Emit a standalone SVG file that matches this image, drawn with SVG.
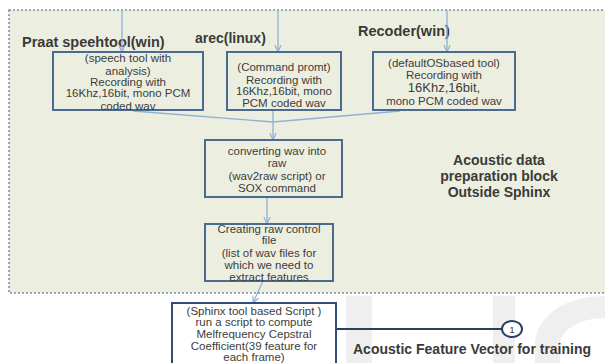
<svg xmlns="http://www.w3.org/2000/svg" width="605" height="363" viewBox="0 0 605 363">
<defs>
<marker id="ah" viewBox="0 0 10 10" refX="9" refY="5" markerWidth="6" markerHeight="6" orient="auto"><path d="M0,1 L9,5 L0,9" fill="none" stroke="#8FB0D6" stroke-width="1.5"/></marker>
<style>
.box{fill:none;stroke:#4A6A8F;stroke-width:2}
.t{font-family:"Liberation Sans",Arial,sans-serif;font-size:11.5px;fill:#3c3c3c;text-anchor:middle}
.h{font-family:"Liberation Sans",Arial,sans-serif;font-size:14px;font-weight:bold;fill:#3a3a3a}
.c{fill:none;stroke:#8FB0D6;stroke-width:1.3}
.wm{fill:#EFEFEF}
</style>
</defs>
<rect width="605" height="363" fill="#ffffff"/>
<g id="watermark">
<rect class="wm" x="346" y="296" width="26" height="67"/>
<rect class="wm" x="493" y="296" width="22" height="67"/>
<path class="wm" d="M605,296 C560,296 535,320 535,345 L535,363 L560,363 L560,345 C560,330 580,318 605,318 Z"/>
</g>
<g id="block">
<rect x="9" y="10" width="600" height="283" fill="#ECEFE0" stroke="#7C8CAA" stroke-width="1.5" stroke-dasharray="2,2"/>
<text class="h" x="499" y="165" text-anchor="middle">Acoustic data</text>
<text class="h" x="499" y="181" text-anchor="middle">preparation block</text>
<text class="h" x="499" y="197" text-anchor="middle">Outside Sphinx</text>
</g>
<g id="labels">
<text class="h" x="22" y="47" style="font-size:14.5px">Praat speehtool(win)</text>
<text class="h" x="195" y="43">arec(linux)</text>
<text class="h" x="358" y="36" style="font-size:14.5px">Recoder(win)</text>
</g>
<g id="connectors">
<line class="c" x1="122" y1="10" x2="122" y2="52" marker-end="url(#ah)"/>
<line class="c" x1="278" y1="10" x2="278" y2="52" marker-end="url(#ah)"/>
<line class="c" x1="447" y1="10" x2="447" y2="52" marker-end="url(#ah)"/>
<polyline class="c" points="133,111 273,122"/>
<polyline class="c" points="400,111 273,122"/>
<line class="c" x1="273" y1="110" x2="273" y2="140" marker-end="url(#ah)"/>
<line class="c" x1="267" y1="197" x2="267" y2="224" marker-end="url(#ah)"/>
<line class="c" x1="263" y1="281" x2="253" y2="303" marker-end="url(#ah)"/>
<line x1="336" y1="329" x2="502" y2="329" stroke="#2B3F63" stroke-width="2"/>
</g>
<g id="box1">
<rect class="box" x="53" y="52" width="150" height="58"/>
<text class="t" x="128" y="62">(speech tool with</text>
<text class="t" x="128" y="75">analysis)</text>
<text class="t" x="128" y="86">Recording with</text>
<text class="t" x="128" y="97">16Khz,16bit, mono PCM</text>
<text class="t" x="128" y="110">coded wav</text>
</g>
<g id="box2">
<rect class="box" x="227" y="52" width="114" height="58"/>
<text class="t" x="284" y="71">(Command promt)</text>
<text class="t" x="284" y="84">Recording with</text>
<text class="t" x="284" y="95">16Khz,16bit, mono</text>
<text class="t" x="284" y="107">PCM coded wav</text>
</g>
<g id="box3">
<rect class="box" x="373" y="52" width="142" height="58"/>
<text class="t" x="444" y="67">(defaultOSbased tool)</text>
<text class="t" x="444" y="79">Recording with</text>
<text class="t" x="444" y="92" style="font-size:13px">16Khz,16bit,</text>
<text class="t" x="444" y="105">mono PCM coded wav</text>
</g>
<g id="box4">
<rect class="box" x="205" y="140" width="137" height="57"/>
<text class="t" x="277" y="155">converting wav into</text>
<text class="t" x="277" y="167">raw</text>
<text class="t" x="277" y="180">(wav2raw script) or</text>
<text class="t" x="277" y="192">SOX  command</text>
</g>
<g id="box5">
<rect class="box" x="205" y="224" width="128" height="57"/>
<text class="t" x="269" y="233">Creating raw control</text>
<text class="t" x="269" y="244">file</text>
<text class="t" x="269" y="257">(list of  wav files for</text>
<text class="t" x="269" y="269">which we need to</text>
<text class="t" x="269" y="281">extract features</text>
</g>
<g id="box6">
<rect x="172" y="303" width="164" height="70" fill="#ffffff" stroke="#2F4D75" stroke-width="2"/>
<text class="t" x="254" y="315">(Sphinx tool based Script )</text>
<text class="t" x="254" y="326">run a script to compute</text>
<text class="t" x="254" y="338">Melfrequency Cepstral</text>
<text class="t" x="254" y="350">Coefficient(39 feature for</text>
<text class="t" x="254" y="361">each frame)</text>
</g>
<g id="output">
<ellipse cx="512" cy="329" rx="10" ry="8" fill="#ffffff" stroke="#2B3F63" stroke-width="2"/>
<text x="512" y="332.5" style="font-family:'Liberation Sans',Arial,sans-serif;font-size:9px;fill:#333;text-anchor:middle">1</text>
<text class="h" x="353" y="354">Acoustic Feature Vector for training</text>
</g>
</svg>
